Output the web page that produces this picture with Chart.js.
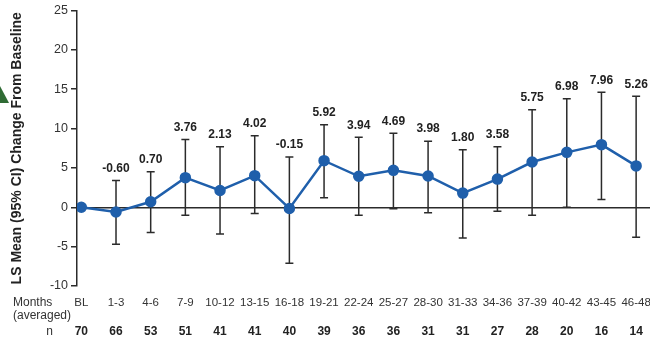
<!DOCTYPE html>
<html lang="en">
<head>
<meta charset="UTF-8">
<title>LS Mean Change From Baseline</title>
<script src="https://cdn.jsdelivr.net/npm/chart.js"></script>
<style>
  html, body { margin: 0; padding: 0; background: #fff; }
  #wrap { width: 650px; height: 343px; position: relative; }
</style>
</head>
<body>
<div id="wrap"><canvas id="myChart"></canvas></div>

<script>
  // periodos (meses promediados), n por periodo, media LS y IC 95%
  const months = ['BL','1-3','4-6','7-9','10-12','13-15','16-18','19-21','22-24','25-27','28-30','31-33','34-36','37-39','40-42','43-45','46-48'];
  const nCount = [70, 66, 53, 51, 41, 41, 40, 39, 36, 36, 31, 31, 27, 28, 20, 16, 14];
  const lsMean = [0, -0.60, 0.70, 3.76, 2.13, 4.02, -0.15, 5.92, 3.94, 4.69, 3.98, 1.80, 3.58, 5.75, 6.98, 7.96, 5.26];
  const ciHigh = [null, 3.4, 4.5, 8.6, 7.7, 9.1, 6.4, 10.5, 8.9, 9.4, 8.4, 7.3, 7.7, 12.4, 13.8, 14.6, 14.1];
  const ciLow  = [null, -4.7, -3.2, -1.0, -3.4, -0.8, -7.1, 1.2, -1.0, -0.2, -0.7, -3.9, -0.5, -1.0, 0.0, 1.0, -3.8];
  const yTicks = [-10, -5, 0, 5, 10, 15, 20, 25];

  const FONT = '"Liberation Sans", Arial, sans-serif';
  const BLUE = '#1f5fab';

  // barras de error + etiquetas de valor encima de cada barra
  const errorBars = {
    id: 'errorBars',
    beforeDatasetsDraw(chart) {
      const ctx = chart.ctx, xs = chart.scales.x, ys = chart.scales.y;
      ctx.save();
      ctx.strokeStyle = '#2b2b2b';
      ctx.lineWidth = 1.5;
      for (let i = 0; i < months.length; i++) {
        if (ciHigh[i] === null) continue;
        const px = xs.getPixelForValue(i);
        const top = ys.getPixelForValue(ciHigh[i]);
        const bot = ys.getPixelForValue(ciLow[i]);
        ctx.beginPath();
        ctx.moveTo(px, top); ctx.lineTo(px, bot);
        ctx.moveTo(px - 4, top); ctx.lineTo(px + 4, top);
        ctx.moveTo(px - 4, bot); ctx.lineTo(px + 4, bot);
        ctx.stroke();
      }
      ctx.restore();
    },
    afterDatasetsDraw(chart) {
      const ctx = chart.ctx, xs = chart.scales.x, ys = chart.scales.y;
      ctx.save();
      ctx.font = 'bold 12px ' + FONT;
      ctx.fillStyle = '#222';
      ctx.textAlign = 'center';
      ctx.textBaseline = 'middle';
      for (let i = 0; i < months.length; i++) {
        if (ciHigh[i] === null) continue;
        const px = xs.getPixelForValue(i);
        const top = ys.getPixelForValue(ciHigh[i]);
        ctx.fillText(lsMean[i].toFixed(2), px, top - 12);
      }
      ctx.restore();
    }
  };

  // filas inferiores: meses y n
  const bottomRows = {
    id: 'bottomRows',
    afterDraw(chart) {
      const ctx = chart.ctx, xs = chart.scales.x;
      ctx.save();
      ctx.textBaseline = 'middle';
      ctx.fillStyle = '#333';
      ctx.font = '12px ' + FONT;
      ctx.textAlign = 'left';
      ctx.fillText('Months', 13, 303);
      ctx.fillText('(averaged)', 13, 316);
      ctx.textAlign = 'right';
      ctx.fillText('n', 53, 332);
      ctx.textAlign = 'center';
      ctx.font = '11.5px ' + FONT;
      for (let i = 0; i < months.length; i++) {
        ctx.fillText(months[i], xs.getPixelForValue(i), 303);
      }
      ctx.font = 'bold 12px ' + FONT;
      ctx.fillStyle = '#222';
      for (let i = 0; i < nCount.length; i++) {
        ctx.fillText(String(nCount[i]), xs.getPixelForValue(i), 332);
      }
      // triangulo verde del borde
      ctx.fillStyle = '#2f6b34';
      ctx.beginPath();
      ctx.moveTo(0, 86); ctx.lineTo(9, 103); ctx.lineTo(0, 103);
      ctx.closePath();
      ctx.fill();
      ctx.restore();
    }
  };

  const config = {
    type: 'line',
    data: {
      datasets: [{
        data: lsMean.map((v, i) => ({ x: i, y: v })),
        borderColor: BLUE,
        backgroundColor: BLUE,
        borderWidth: 2.5,
        pointRadius: 4.5,
        pointBackgroundColor: BLUE,
        pointBorderColor: BLUE,
        tension: 0
      }]
    },
    options: {
      responsive: true,
      maintainAspectRatio: false,
      animation: false,
      layout: { autoPadding: false, padding: { top: 10, right: 0, bottom: 57, left: 0 } },
      plugins: { legend: { display: false }, tooltip: { enabled: false } },
      scales: {
        x: {
          type: 'linear',
          min: -0.125,
          max: 16.4,
          display: false
        },
        y: {
          min: -10,
          max: 25,
          afterBuildTicks: s => { s.ticks = yTicks.map(v => ({ value: v })); },
          afterFit: s => { s.width = 77; },
          border: { display: true, color: '#2b2b2b', width: 1.5 },
          grid: {
            drawOnChartArea: true,
            color: c => (c.tick && c.tick.value === 0) ? '#2b2b2b' : 'transparent',
            lineWidth: 1.5,
            tickColor: '#2b2b2b',
            tickLength: 6
          },
          ticks: {
            padding: 3,
            color: '#333',
            font: { family: FONT, size: 12.5 }
          },
          title: {
            display: true,
            text: 'LS Mean (95% CI) Change From Baseline',
            color: '#222',
            font: { family: FONT, size: 14, weight: 'bold' },
            padding: { top: 9, bottom: 0 }
          }
        }
      }
    },
    plugins: [errorBars, bottomRows]
  };

  new Chart(document.getElementById('myChart'), config);
</script>
</body>
</html>
